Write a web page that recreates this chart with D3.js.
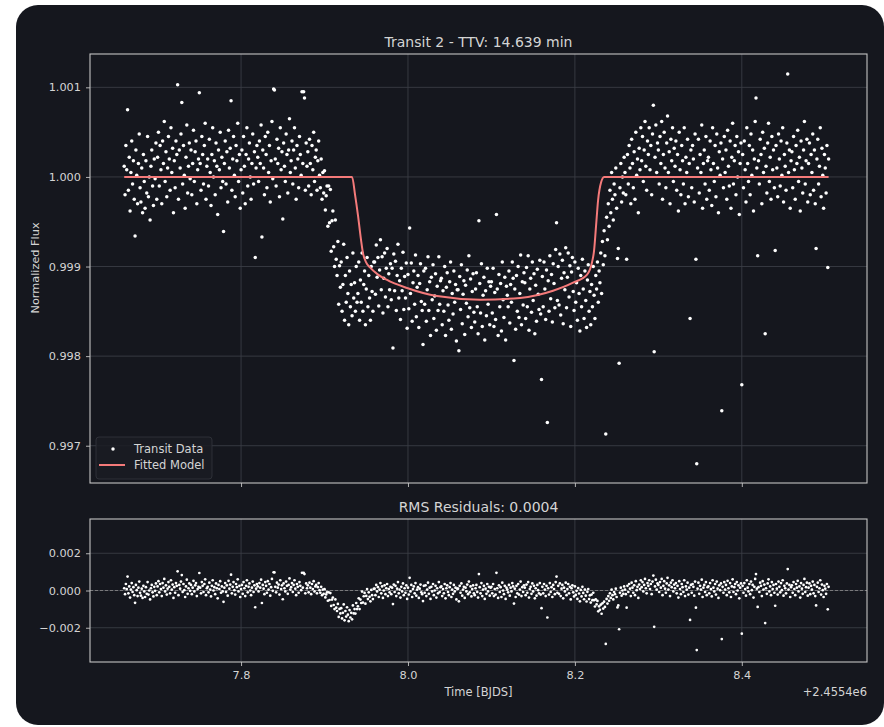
<!DOCTYPE html>
<html>
<head>
<meta charset="utf-8">
<script src="https://cdn.jsdelivr.net/npm/d3@7"></script>
<style>
  body { margin: 0; background: #ffffff; }
  text { font-family: "DejaVu Sans", sans-serif; }
</style>
</head>
<body>
<svg id="chart"></svg>
<script>
// time in days, offset +2.4554e6 (BJD)
var times = [
  7.660,7.661,7.662,7.663,7.664,7.665,7.666,7.667,7.668,7.669,7.670,7.671,7.672,7.673,7.674,7.675,7.676,7.677,7.678,7.679,
  7.680,7.681,7.682,7.683,7.684,7.685,7.686,7.687,7.688,7.689,7.690,7.691,7.692,7.693,7.694,7.695,7.696,7.697,7.698,7.699,
  7.700,7.701,7.702,7.703,7.704,7.705,7.706,7.707,7.708,7.709,7.710,7.711,7.712,7.713,7.714,7.715,7.716,7.717,7.718,7.719,
  7.720,7.721,7.722,7.723,7.724,7.725,7.726,7.727,7.728,7.729,7.730,7.731,7.732,7.733,7.734,7.735,7.736,7.737,7.738,7.739,
  7.740,7.741,7.742,7.743,7.744,7.745,7.746,7.747,7.748,7.749,7.750,7.751,7.752,7.753,7.754,7.755,7.756,7.757,7.758,7.759,
  7.760,7.761,7.762,7.763,7.764,7.765,7.766,7.767,7.768,7.769,7.770,7.771,7.772,7.773,7.774,7.775,7.776,7.777,7.778,7.779,
  7.780,7.781,7.782,7.783,7.784,7.785,7.786,7.787,7.788,7.789,7.790,7.791,7.792,7.793,7.794,7.795,7.796,7.797,7.798,7.799,
  7.800,7.801,7.802,7.803,7.804,7.805,7.806,7.807,7.808,7.809,7.810,7.811,7.812,7.813,7.814,7.815,7.816,7.817,7.818,7.819,
  7.820,7.821,7.822,7.823,7.824,7.825,7.826,7.827,7.828,7.829,7.830,7.831,7.832,7.833,7.834,7.835,7.836,7.837,7.838,7.839,
  7.840,7.841,7.842,7.843,7.844,7.845,7.846,7.847,7.848,7.849,7.850,7.851,7.852,7.853,7.854,7.855,7.856,7.857,7.858,7.859,
  7.860,7.861,7.862,7.863,7.864,7.865,7.866,7.867,7.868,7.869,7.870,7.871,7.872,7.873,7.874,7.875,7.876,7.877,7.878,7.879,
  7.880,7.881,7.882,7.883,7.884,7.885,7.886,7.887,7.888,7.889,7.890,7.891,7.892,7.893,7.894,7.895,7.896,7.897,7.898,7.899,
  7.900,7.901,7.902,7.903,7.904,7.905,7.906,7.907,7.908,7.909,7.910,7.911,7.912,7.913,7.914,7.915,7.916,7.917,7.918,7.919,
  7.920,7.921,7.922,7.923,7.924,7.925,7.926,7.927,7.928,7.929,7.930,7.931,7.932,7.933,7.934,7.935,7.936,7.937,7.938,7.939,
  7.940,7.941,7.942,7.943,7.944,7.945,7.946,7.947,7.948,7.949,7.950,7.951,7.952,7.953,7.954,7.955,7.956,7.957,7.958,7.959,
  7.960,7.961,7.962,7.963,7.964,7.965,7.966,7.967,7.968,7.969,7.970,7.971,7.972,7.973,7.974,7.975,7.976,7.977,7.978,7.979,
  7.980,7.981,7.982,7.983,7.984,7.985,7.986,7.987,7.988,7.989,7.990,7.991,7.992,7.993,7.994,7.995,7.996,7.997,7.998,7.999,
  8.000,8.001,8.002,8.003,8.004,8.005,8.006,8.007,8.008,8.009,8.010,8.011,8.012,8.013,8.014,8.015,8.016,8.017,8.018,8.019,
  8.020,8.021,8.022,8.023,8.024,8.025,8.026,8.027,8.028,8.029,8.030,8.031,8.032,8.033,8.034,8.035,8.036,8.037,8.038,8.039,
  8.040,8.041,8.042,8.043,8.044,8.045,8.046,8.047,8.048,8.049,8.050,8.051,8.052,8.053,8.054,8.055,8.056,8.057,8.058,8.059,
  8.060,8.061,8.062,8.063,8.064,8.065,8.066,8.067,8.068,8.069,8.070,8.071,8.072,8.073,8.074,8.075,8.076,8.077,8.078,8.079,
  8.080,8.081,8.082,8.083,8.084,8.085,8.086,8.087,8.088,8.089,8.090,8.091,8.092,8.093,8.094,8.095,8.096,8.097,8.098,8.099,
  8.100,8.101,8.102,8.103,8.104,8.105,8.106,8.107,8.108,8.109,8.110,8.111,8.112,8.113,8.114,8.115,8.116,8.117,8.118,8.119,
  8.120,8.121,8.122,8.123,8.124,8.125,8.126,8.127,8.128,8.129,8.130,8.131,8.132,8.133,8.134,8.135,8.136,8.137,8.138,8.139,
  8.140,8.141,8.142,8.143,8.144,8.145,8.146,8.147,8.148,8.149,8.150,8.151,8.152,8.153,8.154,8.155,8.156,8.157,8.158,8.159,
  8.160,8.161,8.162,8.163,8.164,8.165,8.166,8.167,8.168,8.169,8.170,8.171,8.172,8.173,8.174,8.175,8.176,8.177,8.178,8.179,
  8.180,8.181,8.182,8.183,8.184,8.185,8.186,8.187,8.188,8.189,8.190,8.191,8.192,8.193,8.194,8.195,8.196,8.197,8.198,8.199,
  8.200,8.201,8.202,8.203,8.204,8.205,8.206,8.207,8.208,8.209,8.210,8.211,8.212,8.213,8.214,8.215,8.216,8.217,8.218,8.219,
  8.220,8.221,8.222,8.223,8.224,8.225,8.226,8.227,8.228,8.229,8.230,8.231,8.232,8.233,8.234,8.235,8.236,8.237,8.238,8.239,
  8.240,8.241,8.242,8.243,8.244,8.245,8.246,8.247,8.248,8.249,8.250,8.251,8.252,8.253,8.254,8.255,8.256,8.257,8.258,8.259,
  8.260,8.261,8.262,8.263,8.264,8.265,8.266,8.267,8.268,8.269,8.270,8.271,8.272,8.273,8.274,8.275,8.276,8.277,8.278,8.279,
  8.280,8.281,8.282,8.283,8.284,8.285,8.286,8.287,8.288,8.289,8.290,8.291,8.292,8.293,8.294,8.295,8.296,8.297,8.298,8.299,
  8.300,8.301,8.302,8.303,8.304,8.305,8.306,8.307,8.308,8.309,8.310,8.311,8.312,8.313,8.314,8.315,8.316,8.317,8.318,8.319,
  8.320,8.321,8.322,8.323,8.324,8.325,8.326,8.327,8.328,8.329,8.330,8.331,8.332,8.333,8.334,8.335,8.336,8.337,8.338,8.339,
  8.340,8.341,8.342,8.343,8.344,8.345,8.346,8.347,8.348,8.349,8.350,8.351,8.352,8.353,8.354,8.355,8.356,8.357,8.358,8.359,
  8.360,8.361,8.362,8.363,8.364,8.365,8.366,8.367,8.368,8.369,8.370,8.371,8.372,8.373,8.374,8.375,8.376,8.377,8.378,8.379,
  8.380,8.381,8.382,8.383,8.384,8.385,8.386,8.387,8.388,8.389,8.390,8.391,8.392,8.393,8.394,8.395,8.396,8.397,8.398,8.399,
  8.400,8.401,8.402,8.403,8.404,8.405,8.406,8.407,8.408,8.409,8.410,8.411,8.412,8.413,8.414,8.415,8.416,8.417,8.418,8.419,
  8.420,8.421,8.422,8.423,8.424,8.425,8.426,8.427,8.428,8.429,8.430,8.431,8.432,8.433,8.434,8.435,8.436,8.437,8.438,8.439,
  8.440,8.441,8.442,8.443,8.444,8.445,8.446,8.447,8.448,8.449,8.450,8.451,8.452,8.453,8.454,8.455,8.456,8.457,8.458,8.459,
  8.460,8.461,8.462,8.463,8.464,8.465,8.466,8.467,8.468,8.469,8.470,8.471,8.472,8.473,8.474,8.475,8.476,8.477,8.478,8.479,
  8.480,8.481,8.482,8.483,8.484,8.485,8.486,8.487,8.488,8.489,8.490,8.491,8.492,8.493,8.494,8.495,8.496,8.497,8.498,8.499,
  8.500,8.501,8.502,8.503,8.504
];

// normalized flux minus 1, in units of 1e-5
var fluxOffset = [
  12,-20,35,8,75,-15,22,-38,5,40,-8,18,-25,-66,30,2,-30,15,48,-12,
  -28,10,-40,25,-5,-35,18,-18,45,-22,0,-48,12,30,-10,-32,20,-2,38,-25,
  22,50,-10,35,8,-30,40,15,62,-5,28,-22,10,45,20,-15,55,5,32,-40,
  18,-12,40,25,103,-25,30,10,48,83,-8,35,2,-35,22,58,-18,12,38,-2,
  30,-20,15,52,-5,28,40,-30,8,20,94,15,-15,45,25,-8,35,60,-25,12,
  20,-10,42,5,-32,25,55,0,18,-20,38,12,-42,30,8,50,-12,22,-5,-61,
  15,40,-8,28,-28,52,10,32,85,-15,20,45,2,-22,35,18,60,-5,25,-35,
  8,30,-18,45,12,-30,25,55,-10,20,38,0,-25,15,48,-8,28,-90,10,35,
  22,-5,40,15,58,-67,30,10,-20,45,25,-12,50,5,35,-28,18,62,-2,98,
  97,20,-10,42,15,32,-22,55,8,28,-47,38,12,-5,48,25,-18,30,65,5,
  18,40,-8,30,55,10,-25,35,20,-12,45,25,2,95,15,95,88,-15,38,12,
  28,-10,42,15,-20,35,8,50,-5,22,30,-15,18,40,2,-12,20,-25,5,-18,
  7,-37,-21,-10,-55,-10,-51,-14,-83,-49,-38,-78,-100,-48,-92,-110,-72,-142,-99,-123,
  -95,-150,-120,-75,-160,-110,-140,-90,-130,-165,-105,-145,-120,-155,-85,-135,-118,-150,-100,-140,
  -130,-95,-160,-115,-140,-85,-150,-120,-105,-165,-125,-90,-145,-110,-135,-160,-100,-128,-150,-95,
  -95,-131,-76,-112,-90,-144,-104,-70,-126,-89,-152,-113,-85,-134,-102,-80,-145,-108,-126,-97,
  -137,-102,-191,-86,-127,-94,-149,-110,-75,-135,-116,-159,-102,-127,-84,-148,-111,-135,-96,-169,
  -109,-147,-57,-130,-96,-161,-118,-105,-142,-87,-156,-123,-110,-168,-119,-97,-139,-149,-187,-105,
  -142,-102,-161,-126,-89,-149,-117,-177,-112,-137,-98,-158,-133,-108,-171,-122,-149,-89,-142,-116,
  -113,-165,-127,-150,-100,-177,-123,-107,-143,-160,-117,-95,-170,-130,-153,-105,-140,-120,-183,-126,
  -126,-194,-111,-148,-98,-164,-131,-116,-176,-121,-141,-104,-156,-88,-146,-114,-168,-128,-108,-151,
  -162,-125,-107,-145,-175,-49,-119,-152,-97,-167,-132,-112,-182,-127,-155,-102,-142,-117,-165,-122,
  -117,-152,-102,-167,-129,-159,-42,-125,-177,-109,-145,-119,-172,-95,-137,-157,-112,-182,-122,-132,
  -145,-105,-163,-120,-140,-95,-113,-205,-125,-170,-110,-150,-100,-157,-130,-87,-165,-117,-143,-107,
  -118,-158,-101,-145,-88,-171,-125,-113,-151,-95,-138,-108,-175,-121,-161,-103,-131,-148,-93,-153,
  -226,-111,-145,-95,-125,-159,-104,-274,-116,-150,-88,-136,-109,-162,-97,-119,-146,-81,-51,-138,
  -100,-143,-86,-154,-113,-93,-164,-107,-126,-79,-146,-112,-85,-134,-99,-167,-106,-90,-128,-149,
  -95,-140,-118,-160,-102,-130,-172,-110,-145,-92,-125,-158,-105,-138,-168,-115,-98,-150,-128,-165,
  -120,-145,-100,-132,-158,-110,-125,-95,-140,-105,-118,-85,-130,-72,-98,-60,-88,-287,-45,-70,
  -30,-55,-15,-40,5,-25,-48,-8,-20,10,-35,-91,-80,-208,-12,15,-28,0,-18,22,
  5,-20,-92,25,-8,35,10,-30,42,15,-12,28,-25,50,2,20,-40,32,8,55,
  18,45,-5,30,62,12,-15,40,25,55,8,35,-20,48,80,-195,22,58,5,38,
  30,-8,45,15,62,-25,25,50,10,-12,38,68,5,28,-30,42,18,55,-5,32,
  12,40,-15,25,-38,50,8,-20,35,18,-8,55,-30,22,5,42,-22,15,-158,30,
  -12,35,20,-28,48,-92,-320,10,42,-18,25,5,58,-35,15,30,-8,45,-25,18,
  22,-15,40,8,-32,55,15,-5,35,-22,48,10,-40,28,2,38,-261,20,-12,45,
  5,30,-25,52,12,-10,40,-35,22,60,-8,18,35,-20,45,0,28,-42,15,38,
  -232,25,-12,40,8,-28,55,15,-5,35,-20,48,2,30,-38,20,62,88,10,-88,
  18,-8,42,25,-30,50,5,32,-175,12,-18,38,60,-5,22,-25,45,8,30,-12,
  -82,35,10,-22,48,20,-10,40,2,55,-28,25,12,-15,38,115,5,30,-35,18,
  28,-12,45,8,-25,35,15,52,-5,22,-38,40,10,-18,30,62,-8,18,42,-28,
  15,38,-20,25,5,48,-15,30,-30,-80,20,42,-8,12,55,-22,32,2,-35,25,
  10,-18,35,-101,20
];

// flux minus fitted model, in units of 1e-5
var residual = [
  12,-20,35,8,75,-15,22,-38,5,40,-8,18,-25,-66,30,2,-30,15,48,-12,
  -28,10,-40,25,-5,-35,18,-18,45,-22,0,-48,12,30,-10,-32,20,-2,38,-25,
  22,50,-10,35,8,-30,40,15,62,-5,28,-22,10,45,20,-15,55,5,32,-40,
  18,-12,40,25,103,-25,30,10,48,83,-8,35,2,-35,22,58,-18,12,38,-2,
  30,-20,15,52,-5,28,40,-30,8,20,94,15,-15,45,25,-8,35,60,-25,12,
  20,-10,42,5,-32,25,55,0,18,-20,38,12,-42,30,8,50,-12,22,-5,-61,
  15,40,-8,28,-28,52,10,32,85,-15,20,45,2,-22,35,18,60,-5,25,-35,
  8,30,-18,45,12,-30,25,55,-10,20,38,0,-25,15,48,-8,28,-90,10,35,
  22,-5,40,15,58,-67,30,10,-20,45,25,-12,50,5,35,-28,18,62,-2,98,
  97,20,-10,42,15,32,-22,55,8,28,-47,38,12,-5,48,25,-18,30,65,5,
  18,40,-8,30,55,10,-25,35,20,-12,45,25,2,95,15,95,88,-15,38,12,
  28,-10,42,15,-20,35,8,50,-5,22,30,-15,18,40,2,-12,20,-25,5,-18,
  7,-37,-21,-10,-55,-10,-51,-14,-83,-49,-38,-78,-100,-48,-92,-110,-72,-142,-99,-123,
  -95,-150,-120,-75,-160,-110,-140,-90,-130,-165,-105,-145,-120,-155,-80,-123,-100,-124,-67,-100,
  -85,-42,-100,-49,-67,-6,-65,-31,-13,-71,-29,8,-46,-10,-34,-58,3,-25,-46,9,
  10,-25,30,-5,18,-35,5,40,-15,22,-40,0,28,-20,12,35,-30,8,-10,20,
  -20,15,-73,32,-8,25,-30,10,45,-15,5,-38,20,-5,38,-25,12,-12,28,-45,
  15,-22,68,-5,30,-35,8,22,-15,40,-28,5,18,-40,10,32,-10,-20,-57,25,
  -12,28,-30,5,42,-18,15,-45,20,-5,35,-25,0,25,-38,12,-15,45,-8,18,
  22,-30,8,-15,35,-42,12,28,-8,-25,18,40,-35,5,-18,30,-5,15,-48,10,
  10,-58,25,-12,38,-28,5,20,-40,15,-5,32,-20,48,-10,22,-32,8,28,-15,
  -25,12,30,-8,-38,88,18,-15,40,-30,5,25,-45,10,-18,35,-5,20,-28,15,
  20,-15,35,-30,8,-22,95,12,-40,28,-8,18,-35,42,0,-20,25,-45,15,5,
  -10,30,-28,15,-5,40,22,-70,10,-35,25,-15,35,-22,5,48,-30,18,-8,28,
  15,-25,32,-12,45,-38,8,20,-18,38,-5,25,-42,12,-28,30,2,-15,40,-22,
  -95,20,-15,35,5,-30,25,-145,12,-22,40,-8,18,-35,30,8,-20,45,75,-12,
  25,-18,38,-30,10,30,-42,15,-5,42,-25,8,35,-15,20,-48,12,28,-10,-32,
  22,-24,-2,-45,13,-16,-58,3,-32,20,-13,-47,5,-28,-59,-7,8,-46,-26,-65,
  -22,-52,-12,-52,-86,-48,-75,-56,-112,-85,-104,-76,-125,-69,-97,-60,-88,-287,-45,-70,
  -30,-55,-15,-40,5,-25,-48,-8,-20,10,-35,-91,-80,-208,-12,15,-28,0,-18,22,
  5,-20,-92,25,-8,35,10,-30,42,15,-12,28,-25,50,2,20,-40,32,8,55,
  18,45,-5,30,62,12,-15,40,25,55,8,35,-20,48,80,-195,22,58,5,38,
  30,-8,45,15,62,-25,25,50,10,-12,38,68,5,28,-30,42,18,55,-5,32,
  12,40,-15,25,-38,50,8,-20,35,18,-8,55,-30,22,5,42,-22,15,-158,30,
  -12,35,20,-28,48,-92,-320,10,42,-18,25,5,58,-35,15,30,-8,45,-25,18,
  22,-15,40,8,-32,55,15,-5,35,-22,48,10,-40,28,2,38,-261,20,-12,45,
  5,30,-25,52,12,-10,40,-35,22,60,-8,18,35,-20,45,0,28,-42,15,38,
  -232,25,-12,40,8,-28,55,15,-5,35,-20,48,2,30,-38,20,62,88,10,-88,
  18,-8,42,25,-30,50,5,32,-175,12,-18,38,60,-5,22,-25,45,8,30,-12,
  -82,35,10,-22,48,20,-10,40,2,55,-28,25,12,-15,38,115,5,30,-35,18,
  28,-12,45,8,-25,35,15,52,-5,22,-38,40,10,-18,30,62,-8,18,42,-28,
  15,38,-20,25,5,48,-15,30,-30,-80,20,42,-8,12,55,-22,32,2,-35,25,
  10,-18,35,-101,20
];

// fitted transit model
var modelTime = [7.660, 7.933, 7.9366, 7.9401, 7.9437, 7.9461, 7.9497, 7.9545, 7.9641, 7.9749,
  7.9989, 8.0348, 8.0863, 8.1343, 8.1738, 8.1978, 8.2146, 8.2206, 8.2230, 8.2254,
  8.2278, 8.2314, 8.2350, 8.504];
var modelFlux = [1.00000, 1.00000, 0.99980, 0.99957, 0.99930, 0.99915, 0.99905, 0.99899, 0.99891, 0.99885,
  0.99876, 0.99867, 0.99863, 0.99865, 0.99873, 0.99882, 0.99891, 0.99905, 0.99918, 0.99946,
  0.99974, 0.99994, 1.00000, 1.00000];

var xTicks = [7.8, 8.0, 8.2, 8.4];
var fluxTicks = [0.997, 0.998, 0.999, 1.000, 1.001];
var residTicks = [-0.002, 0.000, 0.002];

var points = times.map(function (t, i) {
  return { t: t, f: 1 + fluxOffset[i] * 1e-5, r: residual[i] * 1e-5 };
});
var model = modelTime.map(function (t, i) { return { t: t, f: modelFlux[i] }; });

var W = 884, H = 727;
var left = 90, right = 867;
var top1 = 54, bottom1 = 483, top2 = 519, bottom2 = 662;

var txt = "#d4d4d4", spine = "#c4c4c4", grid = "#3a3d45";

var svg = d3.select("#chart").attr("width", W).attr("height", H);

// dark card
svg.append("rect")
  .attr("x", 16).attr("y", 5)
  .attr("width", 868).attr("height", 720)
  .attr("rx", 22)
  .attr("fill", "#15171e");

var x = d3.scaleLinear().domain([7.619, 8.550]).range([left, right]);
var y = d3.scaleLinear().domain([0.996584, 1.001372]).range([bottom1, top1]);
var yr = d3.scaleLinear().domain([-0.00384, 0.00384]).range([bottom2, top2]);

function drawPanel(yScale, yTicks, top, bottom, fmt, showXLabels) {
  var g = svg.append("g");

  // grid
  g.selectAll(".vg").data(xTicks).enter().append("line")
    .attr("x1", function (d) { return x(d); }).attr("x2", function (d) { return x(d); })
    .attr("y1", top).attr("y2", bottom)
    .attr("stroke", grid).attr("stroke-width", 0.9);
  g.selectAll(".hg").data(yTicks).enter().append("line")
    .attr("y1", function (d) { return yScale(d); }).attr("y2", function (d) { return yScale(d); })
    .attr("x1", left).attr("x2", right)
    .attr("stroke", grid).attr("stroke-width", 0.9);

  // axes
  var ax = g.append("g")
    .attr("transform", "translate(" + left + ",0)")
    .call(d3.axisLeft(yScale).tickValues(yTicks).tickFormat(d3.format(fmt)).tickSize(4).tickPadding(5));
  var bx = g.append("g")
    .attr("transform", "translate(0," + bottom + ")")
    .call(d3.axisBottom(x).tickValues(xTicks).tickFormat(showXLabels ? d3.format(".1f") : "").tickSize(4).tickPadding(5));
  [ax, bx].forEach(function (a) {
    a.select(".domain").remove();
    a.selectAll(".tick line").attr("stroke", spine).attr("stroke-width", 0.9);
    a.selectAll(".tick text").attr("fill", txt).style("font-size", "11.3px")
      .style("font-family", "DejaVu Sans, sans-serif");
  });
  return g;
}

var g1 = drawPanel(y, fluxTicks, top1, bottom1, ".3f", false);
var g2 = drawPanel(yr, residTicks, top2, bottom2, ".3f", true);

// zero line on residuals
g2.append("line")
  .attr("x1", left).attr("x2", right)
  .attr("y1", yr(0)).attr("y2", yr(0))
  .attr("stroke", "#8a8a8a").attr("stroke-width", 0.8)
  .attr("stroke-dasharray", "3,2");

// transit data
g1.append("g").selectAll("circle")
  .data(points).enter().append("circle")
  .attr("cx", function (d) { return x(d.t); })
  .attr("cy", function (d) { return y(d.f); })
  .attr("r", 1.75)
  .attr("fill", "#ffffff");

// fitted model
g1.append("path")
  .datum(model)
  .attr("fill", "none")
  .attr("stroke", "#f47a7a")
  .attr("stroke-width", 2)
  .attr("d", d3.line()
    .x(function (d) { return x(d.t); })
    .y(function (d) { return y(d.f); })
    .curve(d3.curveMonotoneX));

// residuals
g2.append("g").selectAll("circle")
  .data(points).enter().append("circle")
  .attr("cx", function (d) { return x(d.t); })
  .attr("cy", function (d) { return yr(d.r); })
  .attr("r", 1.35)
  .attr("fill", "#ffffff");

// frames
[[top1, bottom1], [top2, bottom2]].forEach(function (p) {
  svg.append("rect")
    .attr("x", left).attr("y", p[0])
    .attr("width", right - left).attr("height", p[1] - p[0])
    .attr("fill", "none").attr("stroke", spine).attr("stroke-width", 1.1);
});

// legend
var lg = svg.append("g");
lg.append("rect")
  .attr("x", 96).attr("y", 437).attr("width", 116).attr("height", 42).attr("rx", 3)
  .attr("fill", "#1a1c23").attr("fill-opacity", 0.85)
  .attr("stroke", "#34363e").attr("stroke-width", 0.8);
lg.append("circle").attr("cx", 113).attr("cy", 449).attr("r", 1.75).attr("fill", "#ffffff");
lg.append("line").attr("x1", 99).attr("x2", 125).attr("y1", 465).attr("y2", 465)
  .attr("stroke", "#f47a7a").attr("stroke-width", 2);
lg.append("text").attr("x", 134).attr("y", 453).attr("fill", txt).style("font-size", "11.5px").text("Transit Data");
lg.append("text").attr("x", 134).attr("y", 469).attr("fill", txt).style("font-size", "11.5px").text("Fitted Model");

// titles and labels
svg.append("text")
  .attr("x", (left + right) / 2).attr("y", 47)
  .attr("text-anchor", "middle").attr("fill", txt).style("font-size", "14px")
  .text("Transit 2 - TTV: 14.639 min");
svg.append("text")
  .attr("x", (left + right) / 2).attr("y", 512)
  .attr("text-anchor", "middle").attr("fill", txt).style("font-size", "14px")
  .text("RMS Residuals: 0.0004");
svg.append("text")
  .attr("transform", "translate(39,268) rotate(-90)")
  .attr("text-anchor", "middle").attr("fill", txt).style("font-size", "11.3px")
  .text("Normalized Flux");
svg.append("text")
  .attr("x", (left + right) / 2).attr("y", 696)
  .attr("text-anchor", "middle").attr("fill", txt).style("font-size", "11.5px")
  .text("Time [BJDS]");
svg.append("text")
  .attr("x", right).attr("y", 696)
  .attr("text-anchor", "end").attr("fill", txt).style("font-size", "11.5px")
  .text("+2.4554e6");
</script>
</body>
</html>
